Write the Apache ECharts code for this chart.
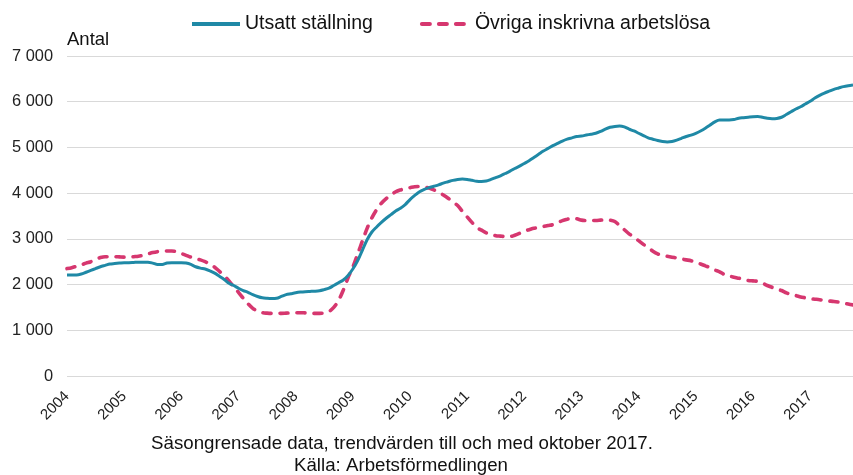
<!DOCTYPE html>
<html>
<head>
<meta charset="utf-8">
<script src="https://cdn.jsdelivr.net/npm/echarts@6/dist/echarts.min.js"></script>
<style>
  html, body { margin: 0; padding: 0; background: #fff; }
  #chart { width: 853px; height: 475px; }
</style>
</head>
<body>
<div id="chart"></div>
<script>
/* ===== data (monthly trend values, Jan 2004 - Oct 2017) ===== */
const years = ['2004','2005','2006','2007','2008','2009','2010','2011','2012','2013','2014','2015','2016','2017'];
const monthsLastYear = 10; // till och med oktober 2017

const utsatt = [
  2210, 2210, 2210, 2230, 2270, 2310, 2350, 2390, 2420, 2450, 2460, 2470, // 2004
  2480, 2480, 2485, 2490, 2490, 2490, 2470, 2440, 2440, 2470, 2480, 2480, // 2005
  2480, 2470, 2440, 2390, 2360, 2340, 2300, 2250, 2180, 2110, 2030, 1980, // 2006
  1920, 1870, 1830, 1780, 1740, 1710, 1700, 1695, 1700, 1740, 1780, 1800, // 2007
  1820, 1835, 1845, 1850, 1855, 1865, 1890, 1920, 1980, 2040, 2100, 2200, // 2008
  2340, 2520, 2750, 2980, 3150, 3260, 3360, 3450, 3530, 3610, 3670, 3750, // 2009
  3860, 3950, 4030, 4080, 4120, 4150, 4180, 4220, 4250, 4280, 4300, 4310, // 2010
  4300, 4280, 4260, 4255, 4265, 4300, 4340, 4380, 4430, 4480, 4540, 4590, // 2011
  4650, 4710, 4780, 4850, 4920, 4980, 5040, 5090, 5140, 5180, 5210, 5240, // 2012
  5250, 5270, 5290, 5310, 5350, 5400, 5440, 5460, 5470, 5450, 5400, 5360, // 2013
  5310, 5260, 5210, 5180, 5150, 5130, 5120, 5130, 5160, 5200, 5240, 5270, // 2014
  5310, 5360, 5420, 5490, 5560, 5600, 5600, 5600, 5610, 5640, 5650, 5660, // 2015
  5670, 5675, 5660, 5640, 5630, 5635, 5660, 5720, 5780, 5840, 5890, 5950, // 2016
  6010, 6080, 6140, 6190, 6230, 6270, 6300, 6330, 6350, 6365              // 2017
];

const ovriga = [
  2350, 2370, 2400, 2430, 2470, 2500, 2550, 2590, 2610, 2610, 2610, 2605, // 2004
  2600, 2600, 2610, 2620, 2640, 2670, 2700, 2720, 2730, 2735, 2735, 2720, // 2005
  2680, 2640, 2600, 2570, 2540, 2500, 2450, 2380, 2290, 2200, 2080, 1950, // 2006
  1830, 1700, 1580, 1480, 1420, 1385, 1375, 1370, 1370, 1370, 1375, 1380, // 2007
  1385, 1385, 1380, 1375, 1370, 1370, 1380, 1410, 1500, 1650, 1880, 2150, // 2008
  2380, 2660, 2950, 3230, 3460, 3640, 3780, 3880, 3960, 4030, 4070, 4100, // 2009
  4120, 4140, 4145, 4130, 4110, 4070, 4020, 3960, 3890, 3810, 3730, 3600, // 2010
  3480, 3360, 3250, 3190, 3130, 3100, 3070, 3060, 3050, 3050, 3080, 3120, // 2011
  3170, 3200, 3230, 3250, 3270, 3290, 3310, 3350, 3400, 3430, 3450, 3440, // 2012
  3410, 3400, 3400, 3400, 3410, 3420, 3410, 3380, 3290, 3200, 3110, 3040, // 2013
  2960, 2880, 2810, 2730, 2670, 2640, 2620, 2600, 2580, 2560, 2540, 2520, // 2014
  2480, 2450, 2410, 2370, 2320, 2280, 2220, 2190, 2160, 2140, 2120, 2090, // 2015
  2080, 2070, 2030, 1980, 1940, 1900, 1870, 1820, 1780, 1760, 1730, 1710, // 2016
  1690, 1680, 1670, 1650, 1640, 1630, 1615, 1595, 1575, 1555              // 2017
];

const seriesNames = ['Utsatt ställning', 'Övriga inskrivna arbetslösa'];
const footnote = 'Säsongrensade data, trendvärden till och med oktober 2017.';
const source = 'Källa: Arbetsförmedlingen';

/* ===== month categories ===== */
const months = [];
years.forEach((y, i) => {
  const n = i === years.length - 1 ? monthsLastYear : 12;
  for (let m = 1; m <= n; m++) months.push(y + '-' + String(m).padStart(2, '0'));
});

const FONT = '"Liberation Sans", Arial, sans-serif';
const fmt = v => String(v).replace(/\B(?=(\d{3})+(?!\d))/g, ' ');

const BLUE = '#1f89a6';
const PINK = '#d6376f';

const chart = echarts.init(document.getElementById('chart'));

chart.setOption({
  backgroundColor: '#fff',
  animation: false,
  textStyle: { fontFamily: FONT },

  legend: {
    top: 14,
    left: 190,
    padding: 0,
    itemWidth: 48,
    itemHeight: 14,
    itemGap: 47,
    itemStyle: { opacity: 0 },
    lineStyle: { width: 4 },
    textStyle: { fontSize: 19.5, color: '#111', fontFamily: FONT },
    data: seriesNames
  },

  grid: { left: 67, right: 0, top: 56, bottom: 99 },

  xAxis: {
    type: 'category',
    data: months,
    boundaryGap: false,
    axisLine: { show: false },
    axisTick: { show: false },
    axisLabel: {
      interval: idx => idx % 12 === 0,
      formatter: v => v.slice(0, 4),
      rotate: 45,
      margin: 18,
      fontSize: 15,
      color: '#222',
      fontFamily: FONT
    },
    splitLine: { show: false }
  },

  yAxis: {
    type: 'value',
    min: 0,
    max: 7000,
    interval: 1000,
    name: 'Antal',
    nameLocation: 'end',
    nameGap: 7,
    nameTextStyle: { align: 'left', fontSize: 18.5, color: '#111', fontFamily: FONT },
    axisLine: { show: false },
    axisTick: { show: false },
    axisLabel: { formatter: fmt, fontSize: 16.4, color: '#222', margin: 14, fontFamily: FONT },
    splitLine: { lineStyle: { color: '#d9d9d9', width: 1 } }
  },

  series: [
    {
      name: seriesNames[0],
      type: 'line',
      data: utsatt,
      symbol: 'none',
      smooth: 0.3,
      z: 3,
      lineStyle: { color: BLUE, width: 3 },
      itemStyle: { color: BLUE }
    },
    {
      name: seriesNames[1],
      type: 'line',
      data: ovriga,
      symbol: 'none',
      smooth: 0.3,
      z: 2,
      lineStyle: { color: PINK, width: 3.6, type: [8, 9], cap: 'round' },
      itemStyle: { color: PINK }
    }
  ],

  graphic: [
    {
      type: 'text',
      x: 402,
      y: 444,
      style: { text: footnote, font: '18.7px ' + FONT, fill: '#111', align: 'center', verticalAlign: 'middle' }
    },
    {
      type: 'text',
      x: 401,
      y: 466,
      style: { text: source, font: '18.7px ' + FONT, fill: '#111', align: 'center', verticalAlign: 'middle' }
    }
  ]
});
</script>
</body>
</html>
